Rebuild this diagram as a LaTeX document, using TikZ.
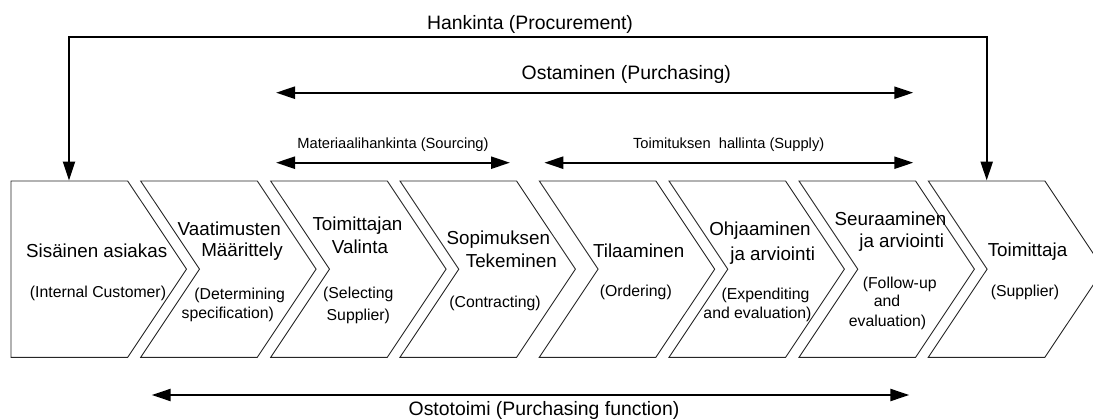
\documentclass[tikz,border=0pt]{standalone}
\usepackage{fontspec}
\setmainfont{Liberation Sans}
\usetikzlibrary{arrows.meta}
\begin{document}
\begin{tikzpicture}[x=1pt,y=-1pt,
  chev/.style={draw=black!85, line width=0.9pt, line join=miter},
  tip/.tip={Triangle[length=19pt,width=12pt]},
  span/.style={line width=2.3pt, tip-tip},
  title/.style={font=\fontsize{18.8}{22.5}\selectfont, anchor=base, inner sep=0pt},
  sub/.style={font=\fontsize{15.8}{20}\selectfont, anchor=base, inner sep=0pt},
  biglabel/.style={font=\fontsize{19.4}{23}\selectfont, anchor=base, inner sep=0pt},
  smalllabel/.style={font=\fontsize{14.7}{18}\selectfont, anchor=base, inner sep=0pt},
]
\useasboundingbox (0,0) rectangle (1093,420);

% process chevrons: the first one has a straight left side
\draw[chev] (11,181) -- (127.7,181) -- (186.5,269.15) -- (127.7,357.3) -- (11,357.3) -- cycle;
\foreach \x in {140.7,270.7,400,539.3,669,799,928.3}
  \draw[chev] (\x,181) -- ++(116.6,0) -- ++(58.8,88.15) -- ++(-58.8,88.15)
              -- ++(-116.6,0) -- ++(58.8,-88.15) -- cycle;

% stage texts
\node[title] (c1a) at (96.7,257) {Sisäinen asiakas};
\node[sub]   (c1b) at (98,297) {(Internal Customer)};

\node[title] (c2a) at (229.3,235.7) {Vaatimusten};
\node[title] (c2b) at (242,256.5) {Määrittely};
\node[sub]   (c2c) at (239.7,299.3) {(Determining};
\node[sub]   (c2d) at (227.8,318.3) {specification)};

\node[title] (c3a) at (357.5,230) {Toimittajan};
\node[title] (c3b) at (360,253.3) {Valinta};
\node[sub]   (c3c) at (358.3,298.3) {(Selecting};
\node[sub]   (c3d) at (358.3,320.7) {Supplier)};

\node[title] (c4a) at (498.3,244) {Sopimuksen};
\node[title] (c4b) at (511.3,267.3) {Tekeminen};
\node[sub]   (c4c) at (495,307.7) {(Contracting)};

\node[title] (c5a) at (638.7,257.3) {Tilaaminen};
\node[sub]   (c5b) at (635.8,296.7) {(Ordering)};

\node[title] (c6a) at (760,235) {Ohjaaminen};
\node[title] (c6b) at (772.7,260) {ja arviointi};
\node[sub]   (c6c) at (765.5,299.3) {(Expenditing};
\node[sub]   (c6d) at (757.5,318.3) {and evaluation)};

\node[title] (c7a) at (890.5,225.3) {Seuraaminen};
\node[title] (c7b) at (901.7,247.3) {ja arviointi};
\node[sub]   (c7c) at (899.7,288.3) {(Follow-up};
\node[sub]   (c7d) at (887,306) {and};
\node[sub]   (c7e) at (887.5,326) {evaluation)};

\node[title] (c8a) at (1027.5,256) {Toimittaja};
\node[sub]   (c8b) at (1025,296.7) {(Supplier)};

% span arrows and their labels
\coordinate (clientTop) at (69,180.5);
\coordinate (supplierTop) at (986.7,180.5);
\coordinate (procMid) at (528,37.3);
\draw[span, line join=miter] (clientTop) |- (procMid) -| (supplierTop);
\node[biglabel] (proc) at (530,29.3) {Hankinta (Procurement)};

\coordinate (purL) at (276,92.7);
\coordinate (purR) at (913.3,92.7);
\draw[span] (purL) -- (purR);
\node[biglabel] (pur) at (626.3,80) {Ostaminen (Purchasing)};

\coordinate (srcL) at (276,162.7);
\coordinate (srcR) at (510,162.7);
\draw[span] (srcL) -- (srcR);
\node[smalllabel] (src) at (393,148.7) {Materiaalihankinta (Sourcing)};

\coordinate (supL) at (544.3,162.7);
\coordinate (supR) at (913.3,162.7);
\draw[span] (supL) -- (supR);
\node[smalllabel] (sup) at (728.7,148.7) {Toimituksen\ \ hallinta (Supply)};

\coordinate (funL) at (151.7,395);
\coordinate (funR) at (909.3,395);
\draw[span] (funL) -- (funR);
\node[biglabel] (fun) at (544,415.3) {Ostotoimi (Purchasing function)};
\end{tikzpicture}
\end{document}
